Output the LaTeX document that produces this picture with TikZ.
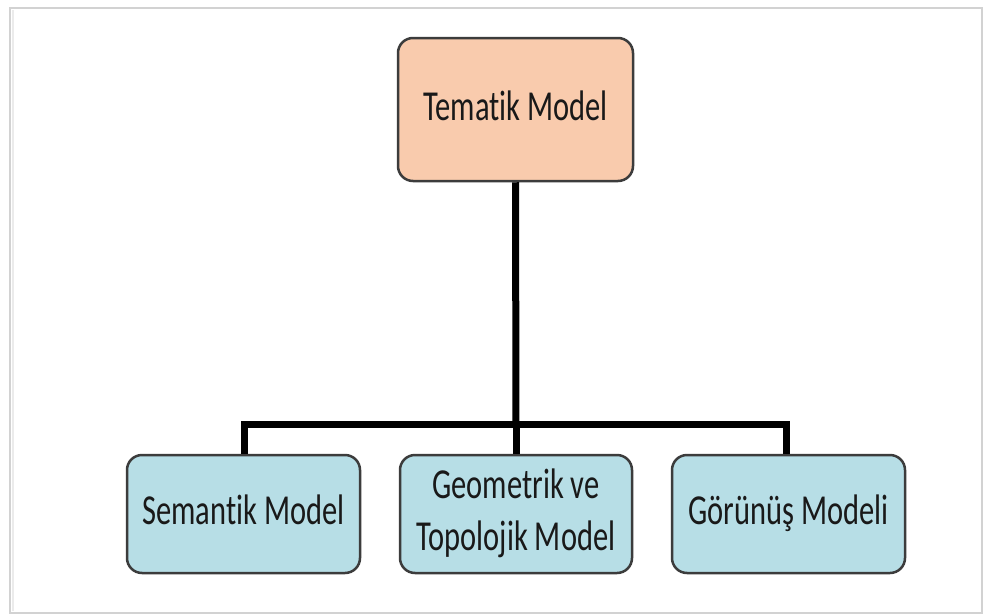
\documentclass[tikz,border=0pt]{standalone}
\usepackage{fontspec}
\setmainfont[Ligatures={NoCommon}]{Carlito}
\usepackage{graphicx}
\definecolor{peach}{HTML}{F9CBAD}
\definecolor{aqua}{HTML}{B7DEE6}
\definecolor{edge}{HTML}{3C3C3C}
\definecolor{frame}{HTML}{D2D2D2}
\newcommand{\boxtext}[1]{\scalebox{1}[1.4]{\fontsize{30.5}{38}\selectfont\begin{tabular}{@{}c@{}}#1\end{tabular}}}
\begin{document}
\begin{tikzpicture}[x=1pt,y=-1pt,
  modelbox/.style={draw=edge, line width=2.5pt, rounded corners=15pt,
    inner sep=0pt, text=black!90, align=center},
  topbox/.style={modelbox, fill=peach, minimum width=235pt, minimum height=143pt},
  subbox/.style={modelbox, fill=aqua, minimum width=233pt, minimum height=118pt},
  link/.style={line width=7pt, black, line join=miter}]
\useasboundingbox (0,0) rectangle (986,616);
\fill[white] (0,0) rectangle (986,616);
\draw[frame, line width=2pt] (10,8) rectangle (982,613);
\draw[black!8, line width=2pt] (12.5,10) -- (12.5,611);

\node[topbox] (top) at (515.5,109.5) {\boxtext{Tematik Model}};
\node[subbox] (sem) at (243.5,514) {\boxtext{Semantik Model}};
\node[subbox, minimum width=232pt] (geo) at (516,514) {\boxtext{Geometrik ve\\[-0.5pt]Topolojik Model}};
\node[subbox] (gor) at (788.5,514) {\boxtext{Görünüş Modeli}};

\coordinate (j) at (516,424);
\draw[link] (top.south) -- (j);
\draw[link] ([xshift=0.5pt]sem.north) -- ([xshift=0.5pt]sem.north |- j) -- ([xshift=-2.5pt]gor.north |- j) -- ([xshift=-2.5pt]gor.north);
\draw[link] (j) -- (geo.north);
\end{tikzpicture}
\end{document}
